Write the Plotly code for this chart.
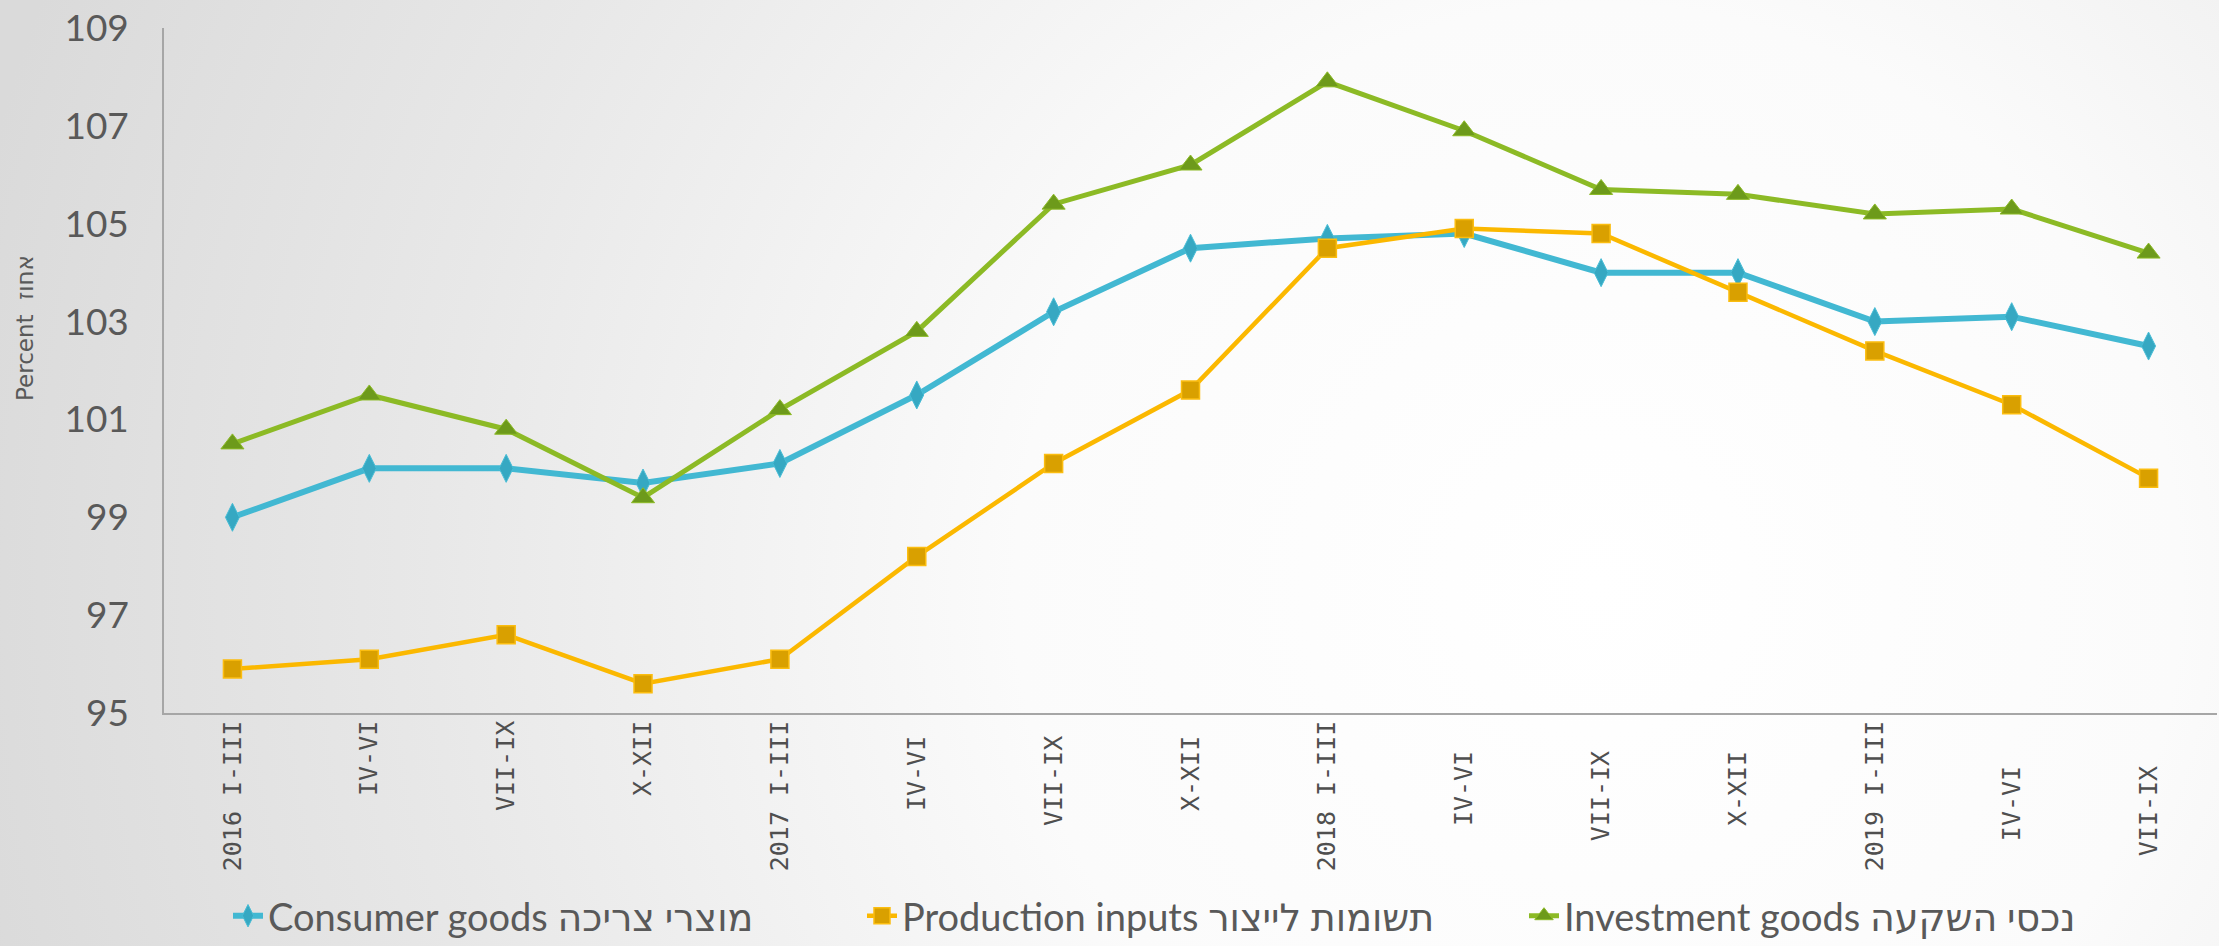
import base64
import plotly.graph_objects as go

categories = ["2016 I-III", "IV-VI", "VII-IX", "X-XII",
              "2017 I-III", "IV-VI ", "VII-IX ", "X-XII ",
              "2018 I-III", "IV-VI  ", "VII-IX  ", "X-XII  ",
              "2019 I-III", "IV-VI   ", "VII-IX   "]

consumer = [99.0, 100.0, 100.0, 99.7, 100.1, 101.5, 103.2, 104.5,
            104.7, 104.8, 104.0, 104.0, 103.0, 103.1, 102.5]
production = [95.9, 96.1, 96.6, 95.6, 96.1, 98.2, 100.1, 101.6,
              104.5, 104.9, 104.8, 103.6, 102.4, 101.3, 99.8]
investment = [100.5, 101.5, 100.8, 99.4, 101.2, 102.8, 105.4, 106.2,
              107.9, 106.9, 105.7, 105.6, 105.2, 105.3, 104.4]

y_ticks = [95, 97, 99, 101, 103, 105, 107, 109]

names = ["Consumer goods מוצרי צריכה",
         "Production inputs תשומות לייצור",
         "Investment goods נכסי השקעה"]

W, H = 2219, 946
ML, MR, MT, MB = 164, 2, 28, 233
PW, PH = W - ML - MR, H - MT - MB

# background radial gradient as an SVG image
svg = (
    f'<svg xmlns="http://www.w3.org/2000/svg" width="{W}" height="{H}" viewBox="0 0 {W} {H}" preserveAspectRatio="none">'
    '<defs><radialGradient id="g" cx="0.72" cy="0.62" r="0.75" gradientUnits="objectBoundingBox" '
    f'gradientTransform="translate(0.72 0.62) scale(1 {W/H:.4f}) translate(-0.72 -0.62)">'
    '<stop offset="0" stop-color="#ffffff"/>'
    '<stop offset="0.35" stop-color="#fbfbfb"/>'
    '<stop offset="0.7" stop-color="#e8e8e8"/>'
    '<stop offset="1" stop-color="#dadada"/>'
    '</radialGradient></defs>'
    f'<rect x="0" y="0" width="{W}" height="{H}" fill="url(#g)"/></svg>'
)
bg_src = "data:image/svg+xml;base64," + base64.b64encode(svg.encode()).decode()

fig = go.Figure()
fig.add_trace(go.Scatter(
    x=categories, y=consumer, name=names[0], mode="lines+markers", legend="legend",
    line=dict(color="#42b8d2", width=6),
    marker=dict(symbol="diamond-tall", size=20, color="#36a8c2",
                line=dict(color="#48bdd6", width=1))))
fig.add_trace(go.Scatter(
    x=categories, y=production, name=names[1], mode="lines+markers", legend="legend2",
    line=dict(color="#fbb800", width=4.5),
    marker=dict(symbol="square", size=18, color="#d9a000",
                line=dict(color="#fbbd10", width=1.5))))
fig.add_trace(go.Scatter(
    x=categories, y=investment, name=names[2], mode="lines+markers", legend="legend3",
    line=dict(color="#8cba25", width=5),
    marker=dict(symbol="triangle-up", size=20, color="#6d9a1b",
                line=dict(color="#8cba25", width=1))))

leg_font = dict(family="Lato, DejaVu Sans, sans-serif", size=38, color="#595959")
leg_y = (MT + PH - 916) / PH
def leg(x_px):
    return dict(orientation="h", x=(x_px - ML) / PW, xanchor="left", y=leg_y, yanchor="middle",
                font=leg_font, bgcolor="rgba(0,0,0,0)", itemwidth=30,
                borderwidth=0, tracegroupgap=0)

fig.update_layout(
    width=W, height=H,
    margin=dict(l=ML, r=MR, t=MT, b=MB, autoexpand=False),
    paper_bgcolor="#eeeeee",
    plot_bgcolor="rgba(0,0,0,0)",
    images=[dict(source=bg_src, xref="paper", yref="paper",
                 x=-ML / PW, y=1 + MT / PH, sizex=W / PW, sizey=H / PH,
                 xanchor="left", yanchor="top", sizing="stretch", layer="below")],
    showlegend=True,
    legend=leg(228),
    legend2=leg(862),
    legend3=leg(1524),
    xaxis=dict(type="category", tickangle=-90, showgrid=False, automargin=False,
               showline=True, linecolor="#a6a6a6", linewidth=1.5,
               ticks="", ticklabelstandoff=-4,
               tickfont=dict(family="DejaVu Sans Mono", size=25, color="#4f4f4f"),
               range=[-0.5, 14.5]),
    yaxis=dict(range=[95, 109], tickvals=y_ticks, showgrid=False, zeroline=False,
               automargin=False, ticklabelstandoff=26,
               showline=True, linecolor="#a6a6a6", linewidth=1.5, ticks="",
               tickfont=dict(family="Lato, DejaVu Sans, sans-serif", size=37, color="#595959")),
    annotations=[dict(text="Percent  אחוז", xref="paper", yref="paper",
                      x=(25 - ML) / PW, y=(MT + PH - 328) / PH,
                      xanchor="center", yanchor="middle", textangle=-90, showarrow=False,
                      font=dict(family="DejaVu Sans", size=23, color="#595959"))],
)

fig.write_html("out.html", config={"displayModeBar": False},
               post_script="document.body.style.margin='0';document.body.style.overflow='hidden';")
